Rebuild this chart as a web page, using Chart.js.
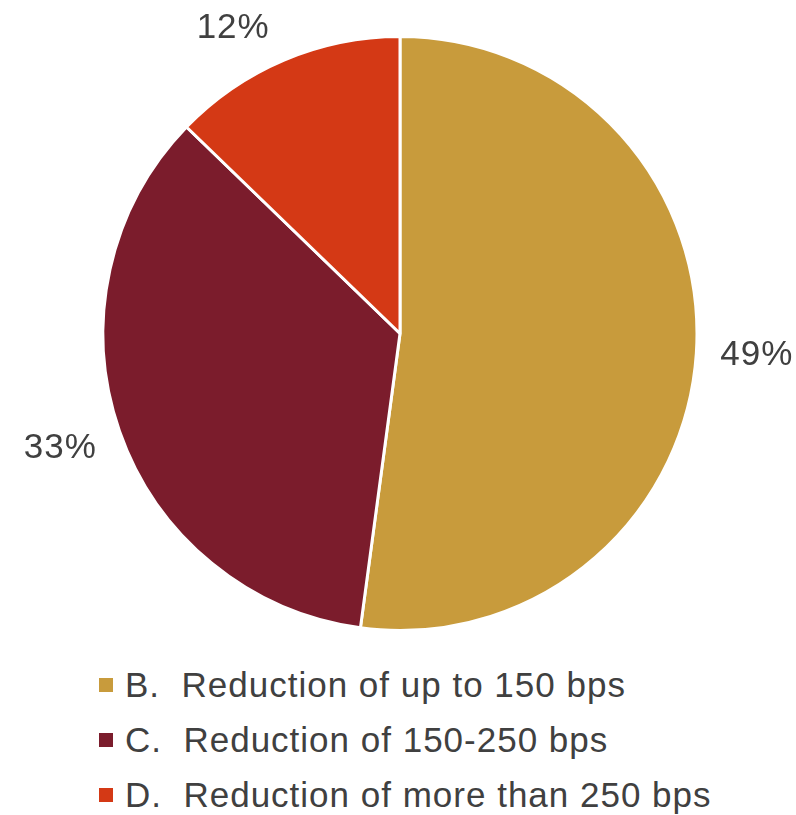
<!DOCTYPE html>
<html>
<head>
<meta charset="utf-8">
<script src="https://cdn.jsdelivr.net/npm/chart.js@4.4.0/dist/chart.umd.min.js"></script>
<style>
  body { margin: 0; background: #fff; }
  #wrap { position: relative; width: 796px; height: 815px; }
  #chartBox { position: absolute; left: 0; top: 0; width: 796px; height: 650px; }
  #legend { position: absolute; left: 99px; top: 665px; font-family: "Liberation Sans", Arial, sans-serif; font-size: 35px; letter-spacing: 1px; color: #404040; }
  .item { white-space: pre; display: flex; align-items: center; height: 40px; margin-bottom: 15px; }
  .box { width: 14px; height: 14px; margin-right: 12px; }
</style>
</head>
<body>
<div id="wrap">
  <div id="chartBox"><canvas id="pie"></canvas></div>
  <div id="legend"></div>
</div>
<script>
// Data
const categories = ['B.  Reduction of up to 150 bps', 'C.  Reduction of 150-250 bps', 'D.  Reduction of more than 250 bps'];
const shares = [49, 33, 12];
const labelsText = ['49%', '33%', '12%'];
const colors = ['#C89B3C', '#7B1C2C', '#D43915'];

// Percent labels outside the slices
const outsideLabels = {
    id: 'outsideLabels',
    afterDatasetsDraw(chart) {
        const ctx = chart.ctx;
        const meta = chart.getDatasetMeta(0);
        ctx.save();
        ctx.font = '35px "Liberation Sans", Arial, sans-serif';
        ctx.letterSpacing = '1px';
        ctx.fillStyle = '#404040';
        ctx.textAlign = 'center';
        ctx.textBaseline = 'middle';
        meta.data.forEach((arc, i) => {
            const p = arc.getProps(['x', 'y', 'startAngle', 'endAngle', 'outerRadius'], true);
            const mid = (p.startAngle + p.endAngle) / 2;
            const c = Math.cos(mid), s = Math.sin(mid);
            const r = p.outerRadius + 24;
            let x = p.x + c * r;
            let y = p.y + s * r;
            const w = ctx.measureText(labelsText[i]).width;
            if (Math.abs(c) > 0.3) x += Math.sign(c) * w / 2;
            if (Math.abs(s) > 0.3) y += Math.sign(s) * 10;
            // top label sits a bit further left in the original
            if (s < -0.8) x -= 5;
            ctx.fillText(labelsText[i], x, y);
        });
        ctx.restore();
    }
};

new Chart(document.getElementById('pie'), {
    type: 'pie',
    data: {
        labels: categories,
        datasets: [{
            data: shares,
            backgroundColor: colors,
            borderColor: '#ffffff',
            borderWidth: 3
        }]
    },
    options: {
        responsive: true,
        maintainAspectRatio: false,
        animation: false,
        layout: { padding: { top: 35, bottom: 18, left: 4, right: 0 } },
        plugins: {
            legend: { display: false },
            tooltip: { enabled: false }
        }
    },
    plugins: [outsideLabels]
});

// HTML legend, left aligned
const legend = document.getElementById('legend');
categories.forEach((name, i) => {
    const row = document.createElement('div');
    row.className = 'item';
    const box = document.createElement('span');
    box.className = 'box';
    box.style.background = colors[i];
    const txt = document.createElement('span');
    txt.textContent = name;
    row.appendChild(box);
    row.appendChild(txt);
    legend.appendChild(row);
});
</script>
</body>
</html>
